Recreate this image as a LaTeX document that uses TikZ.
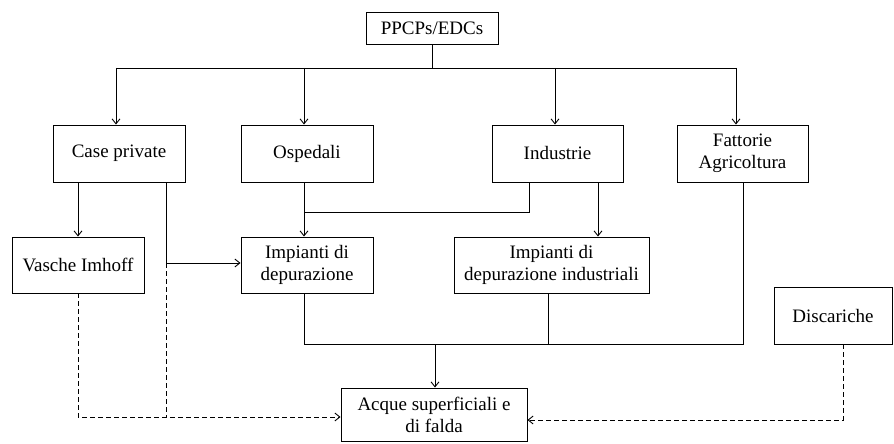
\documentclass[tikz,border=0pt]{standalone}
\usepackage{fontspec}
\setmainfont{Liberation Serif}
\usetikzlibrary{arrows.meta}
\begin{document}
\begin{tikzpicture}[x=1pt,y=-1pt,
  box/.style={draw,line width=0.9pt,rectangle,inner sep=0pt,align=center,font=\fontsize{19}{22}\selectfont},
  ln/.style={line width=0.9pt},
  arr/.style={line width=0.9pt,-{Straight Barb[length=5pt,width=8pt]}},
  dsh/.style={line width=0.9pt,dash pattern=on 5pt off 3pt}]
\useasboundingbox (0,0) rectangle (894,444);
\node[box,minimum width=132,minimum height=32] (ppcp) at (432,28) {PPCPs/EDCs};
\node[box,minimum width=132,minimum height=57] (case) at (119,153.5) {Case private};
\node[box,minimum width=132,minimum height=57] (osp) at (307,153.5) {Ospedali};
\node[box,minimum width=131,minimum height=57] (ind) at (557.5,153.5) {Industrie};
\node[box,minimum width=131,minimum height=57] (fatt) at (742.5,153.5) {Fattorie\\Agricoltura};
\node[box,minimum width=132,minimum height=56] (vasche) at (78,265) {Vasche Imhoff};
\node[box,minimum width=132,minimum height=56] (imp) at (307,265) {Impianti di\\depurazione};
\node[box,minimum width=195,minimum height=56] (impind) at (551.5,265) {Impianti di\\depurazione industriali};
\node[box,minimum width=118,minimum height=57] (disc) at (833,315.5) {Discariche};
\node[box,minimum width=186,minimum height=53] (acque) at (434,414.5) {Acque superficiali e\\di falda};
% bus
\coordinate (busL) at (116,68);
\coordinate (busO) at (304,68);
\coordinate (busI) at (555,68);
\coordinate (busR) at (736,68);
\draw[ln] (ppcp.south) -- (ppcp.south|-busL);
\draw[ln] (busL) -- (busR);
\draw[arr] (busL) -- (busL|-case.north);
\draw[arr] (busO) -- (busO|-osp.north);
\draw[arr] (busI) -- (busI|-ind.north);
\draw[arr] (busR) -- (busR|-fatt.north);
% case private
\draw[arr] (vasche.north|-case.south) -- (vasche.north);
\coordinate (cp) at (166,182);
\coordinate (cpj) at (166,263);
\coordinate (cpd) at (166,417);
\draw[ln] (cp) -- (cpj);
\draw[arr] (cpj) -- (cpj-|imp.west);
\draw[dsh] (cpj) -- (cpd);
% ospedali / industrie
\coordinate (oj) at (304,212);
\coordinate (ij) at (529,212);
\draw[arr] (oj|-osp.south) -- (oj|-imp.north);
\draw[ln] (oj) -- (ij) -- (ij|-ind.south);
\coordinate (ix) at (598,182);
\draw[arr] (ix) -- (ix|-impind.north);
% collector
\coordinate (cl) at (304,344);
\coordinate (cr) at (743,344);
\coordinate (cm) at (435,344);
\coordinate (ci) at (548,344);
\draw[ln] (cl|-imp.south) -- (cl) -- (cr) -- (cr|-fatt.south);
\draw[ln] (ci|-impind.south) -- (ci);
\draw[arr] (cm) -- (cm|-acque.north);
% dashed
\coordinate (vd) at (78,417);
\draw[dsh,-{Straight Barb[length=5pt,width=8pt]}] (vasche.south) -- (vd) -- (vd-|acque.west);
\coordinate (dd) at (843,420);
\draw[dsh,-{Straight Barb[length=5pt,width=8pt]}] (dd|-disc.south) -- (dd) -- (dd-|acque.east);
\end{tikzpicture}
\end{document}
